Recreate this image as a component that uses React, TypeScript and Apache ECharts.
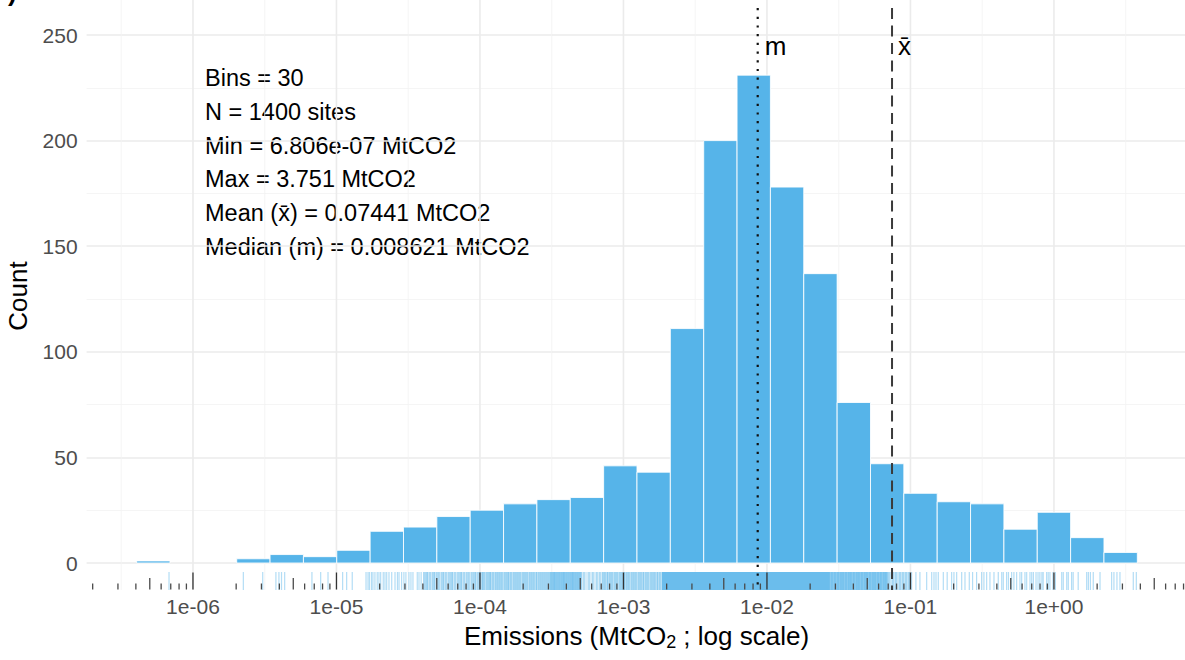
import { useEffect, useRef } from "react";
import * as echarts from "echarts";

// ---------------- data ----------------
// Histogram bin edges on log10(MtCO2) scale (30 bins)
const binEdgesLog10 = [
  -6.3926, -6.1601, -5.9277, -5.6952, -5.4628, -5.2303, -4.9979, -4.7654, -4.5329, -4.3005,
  -4.068, -3.8356, -3.6031, -3.3707, -3.1382, -2.9057, -2.6733, -2.4408, -2.2084, -1.9759,
  -1.7435, -1.511, -1.2785, -1.0461, -0.8136, -0.5812, -0.3487, -0.1163, 0.1162, 0.3486, 0.5811,
];
const binCounts = [
  1, 0, 0, 2, 4, 3, 6, 15, 17, 22, 25, 28, 30, 31, 46, 43, 111, 200, 231, 178, 137, 76, 47, 33, 29,
  28, 16, 24, 12, 5,
];

const nBins = 30;
const nSites = 1400;
const minEmission = 6.806e-7;
const maxEmission = 3.751;
const meanEmission = 0.07441;
const medianEmission = 0.008621;

const yTickValues = [0, 50, 100, 150, 200, 250];
const xTickValues = [-6, -5, -4, -3, -2, -1, 0];
const xTickLabels = ["1e-06", "1e-05", "1e-04", "1e-03", "1e-02", "1e-01", "1e+00"];
const xGridMajor = [-6, -5, -4, -3, -2, -1, 0];
const xGridMinor = [-6.5, -5.5, -4.5, -3.5, -2.5, -1.5, -0.5, 0.5];

// individual rug marks (log10 MtCO2)
const rugLog10 = [
  -6.167, -5.649, -5.514, -5.422, -5.401, -5.383, -5.361, -5.171, -5.11, -5.059, -4.957, -4.929,
  -4.89, -4.794, -4.78, -4.77, -4.756, -4.746, -4.732, -4.716, -4.704, -4.692, -4.674, -4.662,
  -4.65, -4.634, -4.615, -4.592, -4.575, -4.564, -4.546, -4.53, -4.516, -4.495, -4.481, -4.467,
  -4.437, -4.425, -4.41,
  -4.39, -4.376, -4.366, -4.348, -4.328, -4.317, -4.3, -4.286, -4.265, -4.254, -4.237, -4.216,
  -4.202, -4.192, -4.174, -4.153, -4.139, -4.129, -4.111, -4.091, -4.077, -4.056, -4.042, -4.031,
  -4.014, -4.0, -3.983, -3.972, -3.951, -3.937, -3.927, -3.909, -3.889, -3.875, -3.861, -3.847,
  -3.826, -3.812, -3.801, -3.784, -3.763, -3.749, -3.735, -3.721, -3.7, -3.686, -3.672, -3.652,
  -3.638, -3.624, -3.606, -3.589, -3.575, -3.561, -3.547, -3.533, -3.519, -3.505, -3.491, -3.481,
  -3.47, -3.456, -3.443, -3.429, -3.418, -3.408, -3.394, -3.38, -3.366, -3.355, -3.345, -3.331,
  -3.317, -3.303, -3.275, -3.24, -3.213, -3.185, -3.164, -3.143, -3.129, -3.111, -3.094, -3.08,
  -3.059, -3.045, -3.024, -3.01, -2.993, -2.976, -2.962, -2.941, -2.927, -2.913, -2.892, -2.878,
  -2.861, -2.843, -2.829, -2.808, -2.794, -2.781, -2.763, -2.746,
  -1.547, -1.526, -1.505, -1.484, -1.47, -1.449, -1.429, -1.415, -1.394, -1.373, -1.359, -1.338,
  -1.317, -1.303, -1.282, -1.261, -1.247, -1.226, -1.206, -1.185, -1.171, -1.15, -1.122, -1.101,
  -1.073, -1.052, -1.031, -1.01,
  -0.992, -0.962, -0.934, -0.887, -0.852, -0.836, -0.822, -0.806, -0.771, -0.744, -0.713, -0.697,
  -0.678, -0.643, -0.62, -0.59, -0.567, -0.539, -0.504, -0.488, -0.469, -0.446, -0.418, -0.388,
  -0.364, -0.353, -0.33, -0.317, -0.295, -0.279, -0.26, -0.237, -0.225, -0.202, -0.19, -0.167,
  -0.155, -0.143, -0.125, -0.111, -0.098, -0.084, -0.075, -0.051, -0.04, -0.028, -0.007, 0.01,
  0.054, 0.065, 0.089, 0.1, 0.123, 0.134, 0.169, 0.228, 0.24, 0.254, 0.274, 0.321, 0.402, 0.418,
  0.439, 0.46, 0.553, 0.574,
];
// background density of the crowded part of the rug: [from, to, density]
const rugBands = [
  [-4.397, -4.0, 0.3],
  [-4.0, -3.512, 0.4],
  [-3.512, -3.289, 0.6],
  [-3.289, -3.15, 0.25],
  [-3.15, -2.732, 0.4],
  [-2.732, -1.561, 0.88],
  [-1.561, -1.157, 0.7],
  [-1.157, -1.003, 0.35],
];

// ---------------- layout / style ----------------
const FONT = '"Liberation Sans", Arial, Helvetica, sans-serif';
const BAR = "#56B4E9";
const X_MIN = -6.7413;
const X_MAX = 0.93;
const BELOW_ZERO = 27; // panel depth below the zero line (rug area), px
const PANEL_TOP = 8;

function sci(v: number) {
  const [m, e] = v.toExponential(3).split("e");
  const n = parseInt(e, 10);
  return `${m}e${n < 0 ? "-" : "+"}${String(Math.abs(n)).padStart(2, "0")}`;
}

const statLines = [
  `Bins = ${nBins}`,
  `N = ${nSites} sites`,
  `Min = ${sci(minEmission)} MtCO2`,
  `Max = ${maxEmission} MtCO2`,
  `Mean (x\u0304) = ${meanEmission} MtCO2`,
  `Median (m) = ${medianEmission} MtCO2`,
];

const logTicks: number[][] = [];
for (let k = -7; k <= 0; k++) {
  for (let d = 1; d <= 9; d++) {
    const v = k + Math.log10(d);
    if (v > X_MIN && v < X_MAX) logTicks.push([v, d === 1 ? 2 : d === 5 ? 1 : 0]);
  }
}

export default function App() {
  const ref = useRef<HTMLDivElement>(null);
  useEffect(() => {
    const chart = echarts.init(ref.current!, null, { renderer: "svg" });
    const option: any = {
      animation: false,
      backgroundColor: "#ffffff",
      grid: { left: 86.6, width: 1100.8, top: -70.6, height: 633.6, containLabel: false, outerBoundsMode: "none" },
      xAxis: {
        type: "value",
        min: X_MIN,
        max: X_MAX,
        axisLine: { show: false },
        axisTick: { show: false },
        splitLine: { show: false },
        axisLabel: {
          customValues: xTickValues,
          color: "#4d4d4d",
          fontSize: 21,
          fontFamily: FONT,
          margin: 33,
          formatter: (v: number) => {
            const i = xTickValues.findIndex((t) => Math.abs(t - v) < 1e-6);
            return i >= 0 ? xTickLabels[i] : "";
          },
        },
      },
      yAxis: {
        type: "value",
        min: 0,
        max: 300,
        interval: 50,
        axisLine: { show: false },
        axisTick: { show: false },
        axisLabel: {
          color: "#4d4d4d",
          fontSize: 21,
          fontFamily: FONT,
          margin: 9,
          formatter: (v: number) => (yTickValues.includes(v) ? String(v) : ""),
        },
        splitLine: { lineStyle: { color: "#ebebeb", width: 1.6 } },
        minorTick: { show: false, splitNumber: 2 },
        minorSplitLine: { show: true, lineStyle: { color: "#f2f2f2", width: 0.8 } },
      },
      series: [
        {
          type: "custom",
          z: 1,
          silent: true,
          clip: false,
          data: [...xGridMajor.map((v) => [v, 1]), ...xGridMinor.map((v) => [v, 0])],
          renderItem: (_p: any, api: any) => {
            const major = api.value(1) === 1;
            const top = api.coord([api.value(0), 300]);
            const zero = api.coord([api.value(0), 0]);
            return {
              type: "line",
              shape: { x1: top[0], y1: top[1], x2: zero[0], y2: zero[1] + BELOW_ZERO },
              style: { stroke: major ? "#ebebeb" : "#f2f2f2", lineWidth: major ? 1.6 : 0.8 },
            };
          },
        },
        {
          type: "custom",
          name: "Count",
          z: 2,
          clip: false,
          data: binCounts
            .map((c, i) => [binEdgesLog10[i], binEdgesLog10[i + 1], c])
            .filter((d) => d[2] > 0),
          renderItem: (_p: any, api: any) => {
            const a = api.coord([api.value(0), api.value(2)]);
            const b = api.coord([api.value(1), 0]);
            return {
              type: "rect",
              shape: { x: a[0], y: a[1], width: b[0] - a[0], height: b[1] - a[1] },
              style: { fill: BAR, stroke: "rgba(255,255,255,0.85)", lineWidth: 1 },
            };
          },
        },
        {
          type: "custom",
          z: 3,
          silent: true,
          clip: false,
          data: rugBands,
          renderItem: (_p: any, api: any) => {
            const a = api.coord([api.value(0), 0]);
            const b = api.coord([api.value(1), 0]);
            return {
              type: "rect",
              shape: { x: a[0], y: a[1] + 9, width: b[0] - a[0], height: BELOW_ZERO - 9 },
              style: { fill: BAR, opacity: api.value(2) },
            };
          },
        },
        {
          type: "custom",
          z: 3,
          silent: true,
          clip: false,
          data: rugLog10.map((v) => [v]),
          renderItem: (_p: any, api: any) => {
            const a = api.coord([api.value(0), 0]);
            return {
              type: "line",
              shape: { x1: a[0], y1: a[1] + 9, x2: a[0], y2: a[1] + BELOW_ZERO },
              style: { stroke: BAR, opacity: 0.45, lineWidth: 1.2 },
            };
          },
        },
        {
          type: "custom",
          z: 4,
          silent: true,
          clip: false,
          data: logTicks,
          renderItem: (_p: any, api: any) => {
            const a = api.coord([api.value(0), 0]);
            const kind = api.value(1);
            const len = kind === 2 ? 17 : kind === 1 ? 11.5 : 6;
            const yb = a[1] + BELOW_ZERO - 0.5;
            return {
              type: "line",
              shape: { x1: a[0], y1: yb - len, x2: a[0], y2: yb },
              style: { stroke: kind === 2 ? "#333333" : "#4a4a4a", lineWidth: 1.3 },
            };
          },
        },
        {
          type: "custom",
          z: 5,
          silent: true,
          clip: false,
          data: [
            [Math.log10(medianEmission), 0],
            [Math.log10(meanEmission), 1],
          ],
          renderItem: (_p: any, api: any) => {
            const a = api.coord([api.value(0), 0]);
            const dashed = api.value(1) === 1;
            return {
              type: "group",
              children: [
                {
                  type: "line",
                  shape: { x1: a[0], y1: PANEL_TOP, x2: a[0], y2: a[1] + BELOW_ZERO },
                  style: dashed
                    ? { stroke: "#3a3a3a", lineWidth: 2, lineDash: [11, 6.5] }
                    : { stroke: "#111111", lineWidth: 2.2, lineDash: [2.2, 6.5] },
                },
                {
                  type: "text",
                  x: a[0] + (dashed ? 6 : 7),
                  y: 46,
                  style: {
                    text: dashed ? "x\u0304" : "m",
                    fontSize: 26,
                    fontFamily: FONT,
                    fill: "#000000",
                    align: "left",
                    verticalAlign: "middle",
                  },
                },
              ],
            };
          },
        },
      ],
      graphic: [
        {
          type: "text",
          x: 8,
          y: 5,
          style: { text: ")", fontSize: 26, fontWeight: "bold", fontFamily: FONT, fill: "#000", verticalAlign: "bottom" },
        },
        ...statLines.map((t, i) => ({
          type: "text",
          x: 205,
          y: 78 + i * 33.8,
          style: { text: t, fontSize: 23.5, fontFamily: FONT, fill: "#000000", align: "left", verticalAlign: "middle" },
        })),
        {
          type: "text",
          x: 18,
          y: 296,
          rotation: Math.PI / 2,
          style: { text: "Count", fontSize: 26, fontFamily: FONT, fill: "#000000", align: "center", verticalAlign: "middle" },
        },
        {
          type: "text",
          x: 636.5,
          y: 636,
          style: {
            text: "{a|Emissions (MtCO}{b|2}{a| ; log scale)}",
            align: "center",
            verticalAlign: "middle",
            rich: {
              a: { fontSize: 26, fontFamily: FONT, fill: "#000000" },
              b: { fontSize: 18, fontFamily: FONT, fill: "#000000", padding: [12, 0, 0, 0] },
            },
          },
        },
      ],
    };
    chart.setOption(option);
    return () => chart.dispose();
  }, []);
  return (
    <div
      ref={ref}
      style={{ position: "absolute", left: 0, top: 0, width: 1185, height: 660, background: "#ffffff" }}
    />
  );
}
